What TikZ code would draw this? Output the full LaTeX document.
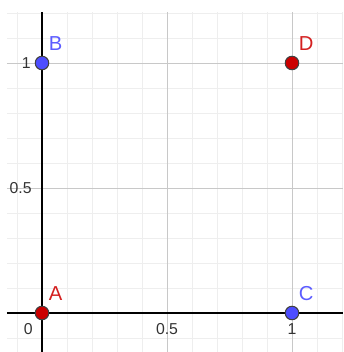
\documentclass[tikz,border=0pt]{standalone}
\usepackage{fontspec}
\setmainfont{Liberation Sans}
\usetikzlibrary{positioning}
\definecolor{ptblue}{HTML}{4D4DFF}
\definecolor{ptred}{HTML}{CC0000}
\definecolor{lblblue}{HTML}{5C5CFF}
\definecolor{lblred}{HTML}{D42020}
\definecolor{gridminor}{HTML}{EEEEEE}
\definecolor{gridmajor}{HTML}{C8C8C8}
\definecolor{ticktext}{HTML}{333333}

\begin{document}
\begin{tikzpicture}[
  x=5cm, y=5cm,
  pt/.style={circle, draw=black!75, line width=0.6pt, inner sep=0pt,
             minimum size=0.27cm},
  bluept/.style={pt, fill=ptblue},
  redpt/.style={pt, fill=ptred},
  ptlabel/.style={font=\fontsize{11.5}{13}\selectfont, inner sep=0pt},
  ticklabel/.style={font=\fontsize{9}{11}\selectfont, text=ticktext, inner sep=0pt},
  axis/.style={black, line width=0.9pt},
]
\useasboundingbox (-0.168,-0.156) rectangle (1.204,1.252);

% Grid
\draw[gridminor, line width=0.5pt, step=0.1] (-0.14,-0.156) grid (1.204,1.204);
\draw[gridmajor, line width=0.55pt, step=0.5] (-0.14,-0.156) grid (1.204,1.204);

% Axes
\draw[axis] (-0.14,0) -- (1.204,0);
\draw[axis] (0,-0.156) -- (0,1.204);

% Tick labels
\node[ticklabel, anchor=north east] (t0) at (-0.036,-0.04) {0};
\node[ticklabel, anchor=north] (tx05) at (0.5,-0.04) {0.5};
\node[ticklabel, anchor=north] (tx1) at (1,-0.04) {1};
\node[ticklabel, anchor=east] (ty05) at (-0.04,0.5) {0.5};
\node[ticklabel, anchor=east] (ty1) at (-0.044,1) {1};

% Points
\node[redpt] (A) at (0,0) {};
\node[bluept] (B) at (0,1) {};
\node[bluept] (C) at (1,0) {};
\node[redpt] (D) at (1,1) {};

% Point labels
\node[ptlabel, text=lblred, above right=0.14cm and 0.03cm of A] (lA) {A};
\node[ptlabel, text=lblblue, above right=0.14cm and 0.03cm of B] (lB) {B};
\node[ptlabel, text=lblblue, above right=0.14cm and 0.03cm of C] (lC) {C};
\node[ptlabel, text=lblred, above right=0.14cm and 0.03cm of D] (lD) {D};

\end{tikzpicture}
\end{document}
